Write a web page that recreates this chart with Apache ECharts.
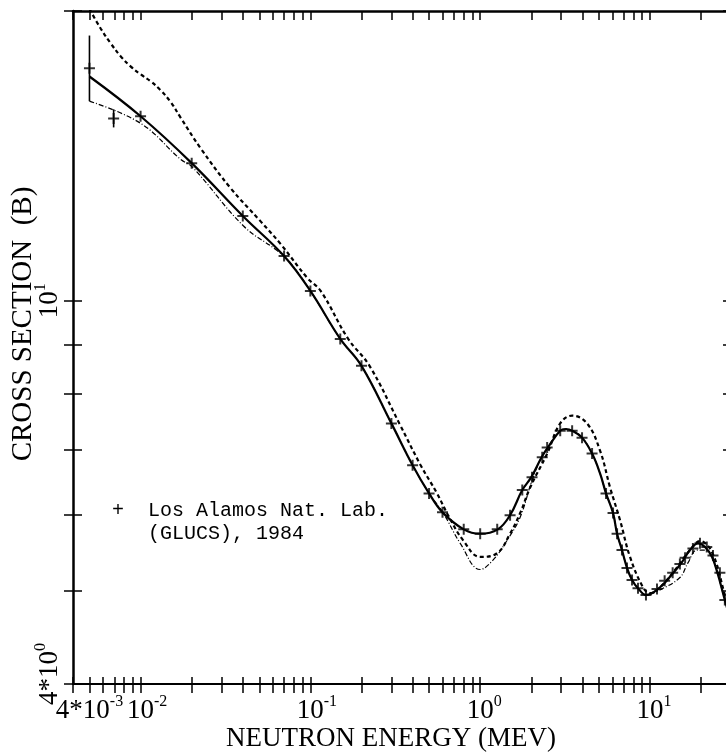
<!DOCTYPE html>
<html>
<head>
<meta charset="utf-8">
<script src="https://cdn.jsdelivr.net/npm/echarts@6/dist/echarts.min.js"></script>
<style>
html,body{margin:0;padding:0;background:#fff;}
#chart{width:726px;height:752px;}
</style>
</head>
<body>
<div id="chart"></div>
<script>
// ---- data (energy in MeV, cross section in b) ----
const solidE = [0.005, 0.01, 0.02, 0.04, 0.07, 0.1, 0.15, 0.2, 0.3, 0.4, 0.5, 0.6, 0.8, 1.0, 1.27, 1.5, 1.77, 2.0, 2.3, 2.5, 2.96, 3.2, 3.48, 3.98, 4.56, 5.08, 5.51, 6.06, 6.4, 6.84, 7.32, 7.84, 8.5, 9.47, 11.45, 13.5, 15.4, 17.2, 19.2, 21.1, 23.2, 25.1, 27.6, 30];
const solidS = [17.1, 15.55, 13.9, 12.25, 11.13, 10.24, 9.13, 8.56, 7.46, 6.75, 6.31, 6.03, 5.79, 5.73, 5.79, 5.99, 6.36, 6.56, 6.88, 7.04, 7.33, 7.36, 7.33, 7.21, 6.94, 6.62, 6.31, 6.02, 5.73, 5.51, 5.28, 5.13, 5.03, 4.95, 5.04, 5.20, 5.35, 5.51, 5.60, 5.55, 5.42, 5.20, 4.89, 4.64];

const dashE = [0.005, 0.00582, 0.00667, 0.00763, 0.00873, 0.01, 0.0115, 0.0131, 0.015, 0.0172, 0.0226, 0.0338, 0.0508, 0.0667, 0.096, 0.115, 0.167, 0.223, 0.334, 0.446, 0.557, 0.65, 0.794, 1.0, 1.26, 1.5, 1.72, 1.97, 2.48, 2.96, 3.48, 4.26, 5.08, 5.82, 6.66, 7.63, 9.1, 10, 11.45, 14.0, 17.2, 19.7, 23.2, 27.6, 30];
const dashS = [20.1, 19.18, 18.51, 17.95, 17.52, 17.19, 16.90, 16.55, 16.10, 15.50, 14.40, 13.10, 12.10, 11.46, 10.56, 10.24, 9.13, 8.56, 7.46, 6.75, 6.31, 5.98, 5.64, 5.42, 5.47, 5.73, 6.02, 6.40, 6.94, 7.46, 7.60, 7.46, 6.99, 6.40, 5.92, 5.42, 5.04, 4.97, 5.04, 5.25, 5.51, 5.63, 5.48, 4.95, 4.70];

const dotE = [0.005, 0.01, 0.0172, 0.0202, 0.0404, 0.064, 0.0762, 0.1, 0.15, 0.2, 0.3, 0.4, 0.5, 0.606, 0.763, 1.0, 1.19, 1.44, 1.72, 2.02, 2.3, 2.5, 2.96, 3.2, 3.48, 3.98, 4.56, 5.08, 5.51, 6.06, 6.4, 6.84, 7.32, 7.84, 8.5, 9.47, 11.45, 15.0, 16.7, 18.9, 21.1, 23.2, 27.6, 30];
const dotS = [16.12, 15.29, 14.03, 13.77, 11.96, 11.27, 10.95, 10.24, 9.13, 8.56, 7.46, 6.75, 6.31, 6.02, 5.60, 5.26, 5.38, 5.64, 5.96, 6.51, 6.88, 7.04, 7.33, 7.36, 7.33, 7.21, 6.94, 6.62, 6.31, 6.02, 5.73, 5.51, 5.28, 5.13, 5.03, 4.95, 5.01, 5.16, 5.34, 5.51, 5.51, 5.42, 4.89, 4.64];

// Los Alamos (GLUCS) 1984 points
const lanlE = [0.005, 0.00694, 0.01, 0.02, 0.04, 0.07, 0.1, 0.15, 0.2, 0.3, 0.4, 0.5, 0.6, 0.8, 1.0, 1.26, 1.5, 1.77, 2.02, 2.32, 2.48, 2.96, 3.48, 3.98, 4.56, 5.51, 6.06, 6.40, 6.84, 7.32, 7.84, 8.50, 9.47, 11.0, 12.2, 13.6, 15.0, 16.1, 17.9, 19.7, 21.6, 23.5, 25.8, 27.6];
const lanlS = [17.44, 15.47, 15.55, 13.90, 12.25, 11.13, 10.24, 9.13, 8.56, 7.46, 6.75, 6.31, 6.03, 5.79, 5.73, 5.79, 5.99, 6.36, 6.56, 6.88, 7.04, 7.33, 7.33, 7.21, 6.94, 6.31, 6.02, 5.73, 5.51, 5.28, 5.13, 5.03, 4.95, 5.02, 5.12, 5.22, 5.33, 5.41, 5.53, 5.60, 5.55, 5.44, 5.22, 4.89];
const errE  = [0.005, 0.00694];
const errLo = [16.12, 15.14];
const errHi = [18.86, 15.81];

// axis ticks / labels
const xTickVals = [0.004,0.005,0.006,0.007,0.008,0.009,0.01,0.02,0.03,0.04,0.05,0.06,0.07,0.08,0.09,0.1,0.2,0.3,0.4,0.5,0.6,0.7,0.8,0.9,1,2,3,4,5,6,7,8,9,10,20,30];
const xDecadeLabelVals = [0.01, 0.1, 1, 10];
const xMinLabelVals = [0.004];
const yTickVals = [4,5,6,7,8,9,10,20];
const yLabelVals = [4, 10];

const SERIF = '"Liberation Serif", "DejaVu Serif", serif';
const MONO = '"Liberation Mono", "DejaVu Sans Mono", monospace';

function zip(a, b) { return a.map((v, i) => [v, b[i]]); }
function near(v, t) { return Math.abs(Math.log10(v) - Math.log10(t)) < 1e-6; }

const richStyles = {
  b:  {fontFamily: SERIF, fontSize: 27, lineHeight: 34, color: '#000'},
  bx: {fontFamily: SERIF, fontSize: 27, lineHeight: 34, color: '#000', padding: [0, 0, 0, 13]},
  b0: {fontFamily: SERIF, fontSize: 27, lineHeight: 34, color: '#000', padding: [0, 0, 0, 8]},
  b4x: {fontFamily: SERIF, fontSize: 27, lineHeight: 34, color: '#000', padding: [0, 0, 0, 33]},
  b4y: {fontFamily: SERIF, fontSize: 27, lineHeight: 34, color: '#000', padding: [0, 0, 0, 20]},
  s:  {fontFamily: SERIF, fontSize: 16, verticalAlign: 'top', color: '#000'}
};

function xFmt(v) {
  if (near(v, 0.004)) return '{b4x|4*10}{s|-3}';
  const e = Math.round(Math.log10(v));
  const st = e < 0 ? 'bx' : 'b0';
  return '{' + st + '|10}{s|' + e + '}';
}
function yFmt(v) {
  if (near(v, 4)) return '{b4y|4*10}{s|0}';
  const e = Math.round(Math.log10(v));
  return '{b|10}{s|' + e + '}';
}

const chart = echarts.init(document.getElementById('chart'), null, {renderer: 'canvas'});

const xBase = {type: 'log', logBase: 10, min: 0.004, max: 30, gridIndex: 0, splitLine: {show: false}};
const yBase = {type: 'log', logBase: 10, min: 4, max: 20, gridIndex: 0, splitLine: {show: false}};
const black = '#000';

chart.setOption({
  animation: false,
  backgroundColor: '#fff',
  grid: {left: 73, top: 11, width: 658, height: 673, containLabel: false, outerBoundsMode: 'none'},
  xAxis: [
    Object.assign({}, xBase, {
      position: 'bottom',
      axisLine: {show: true, lineStyle: {color: black, width: 2}},
      axisTick: {show: true, inside: false, length: 9, customValues: xTickVals, lineStyle: {color: black, width: 1.5}},
      axisLabel: {show: true, interval: 0, customValues: xDecadeLabelVals, margin: 10, formatter: xFmt, rich: richStyles, color: black, hideOverlap: false},
      name: 'NEUTRON ENERGY (MEV)',
      nameLocation: 'middle',
      nameGap: 41,
      nameMoveOverlap: false,
      nameTextStyle: {fontFamily: SERIF, fontSize: 27, color: black, padding: [0, 22, 0, 0]}
    }),
    Object.assign({}, xBase, {
      position: 'bottom',
      axisLine: {show: false},
      axisTick: {show: true, inside: true, length: 7, customValues: xTickVals, lineStyle: {color: black, width: 1.5}},
      axisLabel: {show: true, interval: 0, customValues: xMinLabelVals, margin: 10, formatter: xFmt, rich: richStyles, color: black, showMinLabel: true, hideOverlap: false}
    }),
    Object.assign({}, xBase, {
      position: 'top',
      axisLine: {show: true, lineStyle: {color: black, width: 2.5}},
      axisTick: {show: true, inside: true, length: 9, customValues: xTickVals, lineStyle: {color: black, width: 1.5}},
      axisLabel: {show: false}
    })
  ],
  yAxis: [
    Object.assign({}, yBase, {
      position: 'left',
      axisLine: {show: true, lineStyle: {color: black, width: 2.5}},
      axisTick: {show: true, inside: false, length: 9, customValues: yTickVals, lineStyle: {color: black, width: 1.5}},
      axisLabel: {show: true, interval: 0, rotate: 90, customValues: yLabelVals, margin: 6, formatter: yFmt, rich: richStyles, color: black, showMinLabel: true, hideOverlap: false},
      name: 'CROSS SECTION  (B)',
      nameLocation: 'middle',
      nameRotate: 90,
      nameGap: 35,
      nameMoveOverlap: false,
      nameTextStyle: {fontFamily: SERIF, fontSize: 29, color: black, padding: [0, 0, 0, 47]}
    }),
    Object.assign({}, yBase, {
      position: 'left',
      axisLine: {show: false},
      axisTick: {show: true, inside: true, length: 9, customValues: yTickVals, lineStyle: {color: black, width: 1.5}},
      axisLabel: {show: false}
    }),
    Object.assign({}, yBase, {
      position: 'right',
      axisLine: {show: true, lineStyle: {color: black, width: 2.5}},
      axisTick: {show: true, inside: true, length: 8, customValues: yTickVals, lineStyle: {color: black, width: 1.5}},
      axisLabel: {show: false}
    })
  ],
  legend: {
    show: true,
    data: [{name: 'Los Alamos Nat. Lab.', icon: 'none'}],
    left: 102, top: 494,
    itemWidth: 0, itemHeight: 0,
    selectedMode: false,
    formatter: function () { return '+  Los Alamos Nat. Lab.\n   (GLUCS), 1984'; },
    textStyle: {fontFamily: MONO, fontSize: 20, lineHeight: 23, color: black}
  },
  series: [
    {
      name: 'solid', type: 'line', xAxisIndex: 0, yAxisIndex: 0,
      data: zip(solidE, solidS), smooth: 0.4, showSymbol: false, symbol: 'none',
      lineStyle: {color: black, width: 2.2}, clip: true, z: 3
    },
    {
      name: 'dashed', type: 'line', xAxisIndex: 0, yAxisIndex: 0,
      data: zip(dashE, dashS), smooth: 0.4, showSymbol: false, symbol: 'none',
      lineStyle: {color: black, width: 2.2, type: [4, 3]}, clip: true, z: 2
    },
    {
      name: 'dotted', type: 'line', xAxisIndex: 0, yAxisIndex: 0,
      data: zip(dotE, dotS), smooth: 0.4, showSymbol: false, symbol: 'none',
      lineStyle: {color: black, width: 1.2, type: [5, 2, 1, 2]}, clip: true, z: 2
    },
    {
      name: 'Los Alamos Nat. Lab.', type: 'scatter', xAxisIndex: 0, yAxisIndex: 0,
      data: zip(lanlE, lanlS),
      symbol: 'path://M0,5L10,5M5,0L5,10', symbolSize: 11,
      itemStyle: {color: black, borderColor: black, borderWidth: 2}, z: 4
    },
    {
      name: 'errorbars', type: 'custom', xAxisIndex: 0, yAxisIndex: 0,
      data: errE.map((e, i) => [e, errLo[i], errHi[i]]),
      renderItem: function (params, api) {
        const lo = api.coord([api.value(0), api.value(1)]);
        const hi = api.coord([api.value(0), api.value(2)]);
        return {type: 'line', shape: {x1: lo[0], y1: lo[1], x2: hi[0], y2: hi[1]}, style: {stroke: black, lineWidth: 1.6}};
      },
      z: 4
    }
  ]
});
</script>
</body>
</html>
